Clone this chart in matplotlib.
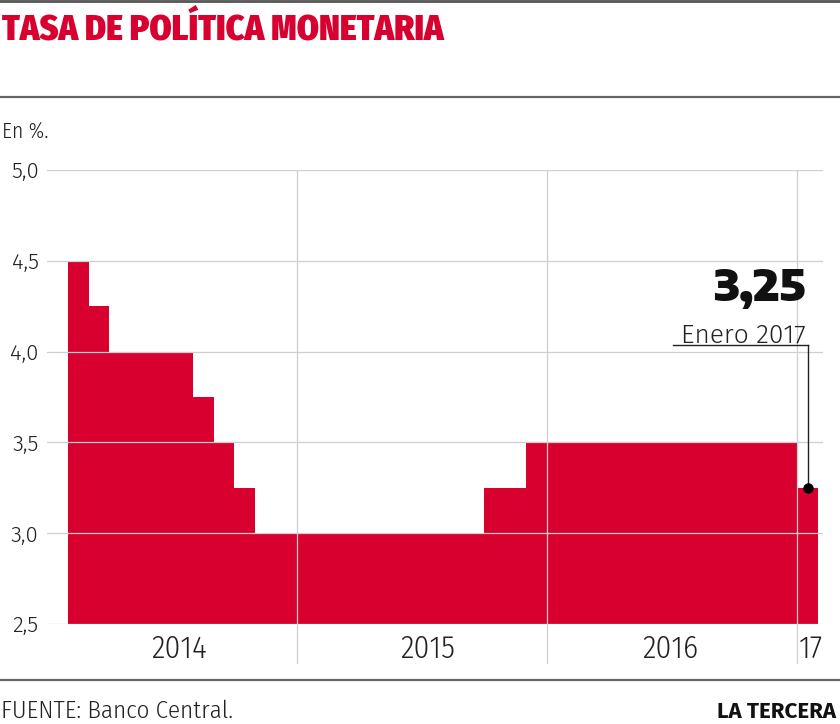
import numpy as np
import matplotlib
matplotlib.use("Agg")
import matplotlib.pyplot as plt
from matplotlib.lines import Line2D

# Tasa de política monetaria, monthly, Feb 2014 .. Jan 2017 (months since Jan 2014)
month_start = 1
rates = [4.5, 4.25, 4.0, 4.0, 4.0, 4.0, 3.75, 3.5, 3.25, 3.0, 3.0,          # 2014 (Feb-Dec)
         3.0, 3.0, 3.0, 3.0, 3.0, 3.0, 3.0, 3.0, 3.0, 3.25, 3.25, 3.5,      # 2015
         3.5, 3.5, 3.5, 3.5, 3.5, 3.5, 3.5, 3.5, 3.5, 3.5, 3.5, 3.5,        # 2016
         3.25]                                                               # Jan 2017
year_labels = ["2014", "2015", "2016", "17"]
year_centers = [6.35, 18.25, 29.9, 36.65]
year_bounds = [12, 24, 36]
yticks = [2.5, 3.0, 3.5, 4.0, 4.5, 5.0]

RED = "#d7002f"
GRID = "#cfcfcf"
TXT = "#222222"
BODY = ["Fira Sans Condensed", "DejaVu Sans"]
TICK = ["Fira Sans", "DejaVu Sans"]
HEAVY = ["Encode Sans Semi Expanded", "DejaVu Sans"]
BOLD = ["Fira Sans", "DejaVu Sans"]

W, H = 840, 724
fig = plt.figure(figsize=(W / 100, H / 100), dpi=100)


def fx(x):
    return x / W


def fy(y):
    return 1 - y / H


# axes placed in pixel terms: 47..823 wide, 170..624 tall
ax = fig.add_axes([fx(47), fy(624), (823 - 47) / W, (624 - 170) / H])
ax.set_xlim(0, 37.25)
ax.set_ylim(2.5, 5.0)
px_per_unit = (624 - 170) / 2.5

edges = np.arange(month_start, month_start + len(rates) + 1)
ax.stairs(rates, edges, baseline=2.5, fill=True, color=RED, lw=0, zorder=1)

for v in yticks:
    ax.axhline(v, color=GRID, lw=0.9, zorder=2)
for b in year_bounds:
    ax.axvline(b, ymin=-0.086, ymax=1, color=GRID, lw=0.9, zorder=2, clip_on=False)

for s in ax.spines.values():
    s.set_visible(False)
ax.set_xticks([])
ax.set_yticks(yticks)
ax.set_yticklabels([f"{v:.1f}".replace(".", ",") for v in yticks],
                   fontsize=16, family=TICK, fontweight=300, color=TXT)
ax.tick_params(axis="y", length=0, pad=6)

for lab, c in zip(year_labels, year_centers):
    ax.text(c, 2.5 - 34 / px_per_unit, lab, ha="center", va="baseline",
            fontsize=22.5, family=BODY, fontweight=300, color=TXT, clip_on=False)

# annotation for last value
last_x = edges[-2] + 0.53
last_v = rates[-1]
ax.plot([last_x], [last_v], "o", color="black", ms=6.5, zorder=4)
ul_y = 5.0 - (345 - 170) / px_per_unit
ax.plot([last_x, last_x], [last_v, ul_y], color=TXT, lw=1.0, zorder=3)
ul_left = (673 - 297) / (250 / 12) + 12
ax.plot([ul_left, last_x], [ul_y, ul_y], color=TXT, lw=1.0, zorder=3)
ax.text(last_x - 0.12, 5.0 - (342 - 170) / px_per_unit, "Enero 2017", ha="right",
        va="baseline", fontsize=19, family=TICK, fontweight=300, color=TXT)
ax.text(last_x - 0.1, 5.0 - (301 - 170) / px_per_unit, f"{last_v:.2f}".replace(".", ","),
        ha="right", va="baseline", fontsize=31, family=HEAVY, fontweight=900,
        color="#111111")

# header / footer
fig.text(fx(2), fy(39), "TASA DE POLÍTICA MONETARIA", ha="left", va="baseline",
         fontsize=25.5, family=BODY, fontweight=900, color=RED)
fig.text(fx(2), fy(138), "En %.", ha="left", va="baseline", fontsize=15.5,
         family=BODY, fontweight=300, color=TXT)
fig.text(fx(1), fy(718), "FUENTE: Banco Central.", ha="left", va="baseline",
         fontsize=18, family=BODY, fontweight=300, color=TXT)
fig.text(fx(836), fy(718), "LA TERCERA", ha="right", va="baseline",
         fontsize=16, family=BOLD, fontweight=700, color="#111111")

for y, c, lw in [(1, "#555555", 2.0), (97, "#666666", 1.6), (680, "#666666", 1.6)]:
    fig.add_artist(Line2D([0, 1], [fy(y), fy(y)], color=c, lw=lw))

fig.savefig("out.png", dpi=100)
